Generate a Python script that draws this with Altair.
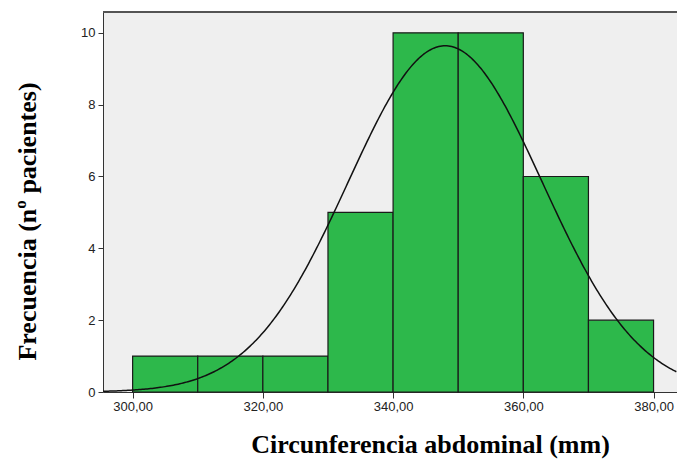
import altair as alt
import pandas as pd

# Histogram bins (mm) and patient counts
bin_start = [300, 310, 320, 330, 340, 350, 360, 370]
bin_end = [310, 320, 330, 340, 350, 360, 370, 380]
counts = [1, 1, 1, 5, 10, 10, 6, 2]

# Fitted normal curve parameters
mean_mm = 348.0
sd_mm = 14.9
n_total = 36
bin_width = 10

x_domain = [295.45, 383.6]
y_domain = [0, 10.58]

bars_df = pd.DataFrame({"start": bin_start, "end": bin_end, "count": counts})

x_scale = alt.Scale(domain=x_domain, nice=False, zero=False)
y_scale = alt.Scale(domain=y_domain, nice=False)

x_axis = alt.Axis(
    values=[300, 320, 340, 360, 380],
    labelExpr="replace(format(datum.value, '.2f'), '.', ',')",
    title="Circunferencia abdominal (mm)",
    titleFont="Liberation Serif", titleFontSize=26, titleFontWeight="bold",
    titleColor="black", titleX=327, titleY=60, titleBaseline="alphabetic",
    labelFont="Liberation Sans", labelFontSize=13, labelColor="#222222",
    tickSize=6, tickColor="#333333", domainColor="#333333", grid=False,
    labelPadding=2,
)
y_axis = alt.Axis(
    values=[0, 2, 4, 6, 8, 10],
    title="Frecuencia (nº pacientes)",
    titleFont="Liberation Serif", titleFontSize=26, titleFontWeight="bold",
    titleColor="black", titleX=-76, titleY=209, titleAngle=-90,
    titleAlign="center", titleBaseline="middle",
    labelFont="Liberation Sans", labelFontSize=13, labelColor="#222222",
    tickSize=5, tickColor="#333333", domainColor="#333333", grid=False,
    labelPadding=3,
)

bars = alt.Chart(bars_df).mark_bar(
    color="#2db84b", stroke="#1a1a1a", strokeWidth=1.2
).encode(
    x=alt.X("start:Q", scale=x_scale, axis=x_axis),
    x2="end:Q",
    y=alt.Y("count:Q", scale=y_scale, axis=y_axis),
    y2=alt.datum(0),
)

curve = alt.Chart(alt.sequence(295.5, 383.6, 0.25, as_="x")).transform_calculate(
    y=f"{n_total} * {bin_width} / ({sd_mm} * sqrt(2 * PI)) * exp(-0.5 * pow((datum.x - {mean_mm}) / {sd_mm}, 2))"
).mark_line(color="#111111", strokeWidth=1.5, clip=True).encode(
    x=alt.X("x:Q", scale=x_scale),
    y=alt.Y("y:Q", scale=y_scale),
)

top_border = alt.Chart(bars_df).mark_rule(color="#555555", strokeWidth=1.5).encode(
    x=alt.value(0), x2=alt.value(574), y=alt.value(0)
)

chart = alt.layer(bars, curve, top_border).properties(
    width=574, height=380,
    autosize=alt.AutoSizeParams(type="none"),
    padding={"left": 103, "top": 12, "right": 0, "bottom": 67},
    background="white",
).configure_view(fill="#efefef", stroke=None)

chart.save("out.html", embed_options={"renderer": "svg", "actions": False})
